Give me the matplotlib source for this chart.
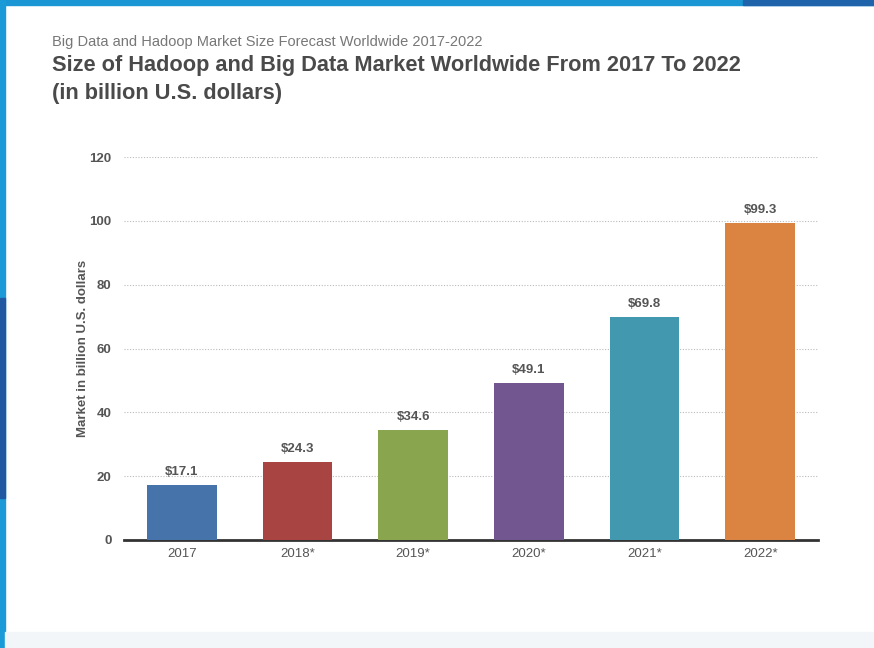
import matplotlib
matplotlib.use("Agg")
import matplotlib.pyplot as plt
from matplotlib.patches import Rectangle

plt.rcParams['font.family'] = ['Liberation Sans', 'DejaVu Sans']

categories = ["2017", "2018*", "2019*", "2020*", "2021*", "2022*"]
values = [17.1, 24.3, 34.6, 49.1, 69.8, 99.3]
labels = ["$17.1", "$24.3", "$34.6", "$49.1", "$69.8", "$99.3"]
colors = ["#4673a9", "#a84543", "#89a54e", "#71568f", "#4298af", "#db8441"]
yticks = [0, 20, 40, 60, 80, 100, 120]

W, H = 874, 648
fig = plt.figure(figsize=(W / 100, H / 100), dpi=100)
fig.patch.set_facecolor("white")

# frame decorations
fig.add_artist(Rectangle((0, 1 - 5 / H), 1, 5 / H, transform=fig.transFigure, color="#1b96d4", zorder=0))
fig.add_artist(Rectangle((0.85, 1 - 5 / H), 0.15, 5 / H, transform=fig.transFigure, color="#1f64ab", zorder=0))
fig.add_artist(Rectangle((0, 0), 5 / W, 1, transform=fig.transFigure, color="#1b9ad8", zorder=0))
fig.add_artist(Rectangle((0, 150 / H), 5 / W, 200 / H, transform=fig.transFigure, color="#2058a2", zorder=0))
fig.add_artist(Rectangle((5 / W, 0), 1, 16 / H, transform=fig.transFigure, color="#f3f6f9", zorder=0))

ax = fig.add_axes([124 / W, 1 - 540 / H, (818 - 124) / W, (540 - 157) / H])
x = list(range(len(categories)))
ax.bar(x, values, width=0.6, color=colors, zorder=3)
for xi, v, lab in zip(x, values, labels):
    ax.text(xi, v + 2.2, lab, ha="center", va="bottom", fontsize=9.5, fontweight="bold", color="#555555")

ax.set_xlim(-0.5, 5.5)
ax.set_ylim(0, 120)
ax.set_yticks(yticks)
ax.set_yticklabels([str(t) for t in yticks], fontsize=9.5, fontweight="bold", color="#555555")
ax.set_xticks(x)
ax.set_xticklabels(categories, fontsize=9.5, color="#555555")
ax.tick_params(axis="both", length=0)
ax.tick_params(axis="y", pad=9)
ax.tick_params(axis="x", pad=6)
for s in ["top", "right", "left"]:
    ax.spines[s].set_visible(False)
ax.spines["bottom"].set_color("#333333")
ax.spines["bottom"].set_linewidth(2)
ax.yaxis.grid(True, linestyle=(0, (1, 1.5)), color="#bbbbbb", linewidth=0.8, zorder=0)
ax.set_axisbelow(True)
ax.set_ylabel("Market in billion U.S. dollars", fontsize=9.5, fontweight="bold", color="#555555")
ax.yaxis.set_label_coords(-0.05, 0.5)

fig.text(52 / W, 1 - 42 / H, "Big Data and Hadoop Market Size Forecast Worldwide 2017-2022",
         fontsize=10.5, color="#777777", va="center", ha="left")
fig.text(52 / W, 1 - 65 / H, "Size of Hadoop and Big Data Market Worldwide From 2017 To 2022",
         fontsize=15.7, fontweight="bold", color="#4a4a4a", va="center", ha="left")
fig.text(52 / W, 1 - 94 / H, "(in billion U.S. dollars)",
         fontsize=15.7, fontweight="bold", color="#4a4a4a", va="center", ha="left")

fig.savefig("out.png", dpi=100)
